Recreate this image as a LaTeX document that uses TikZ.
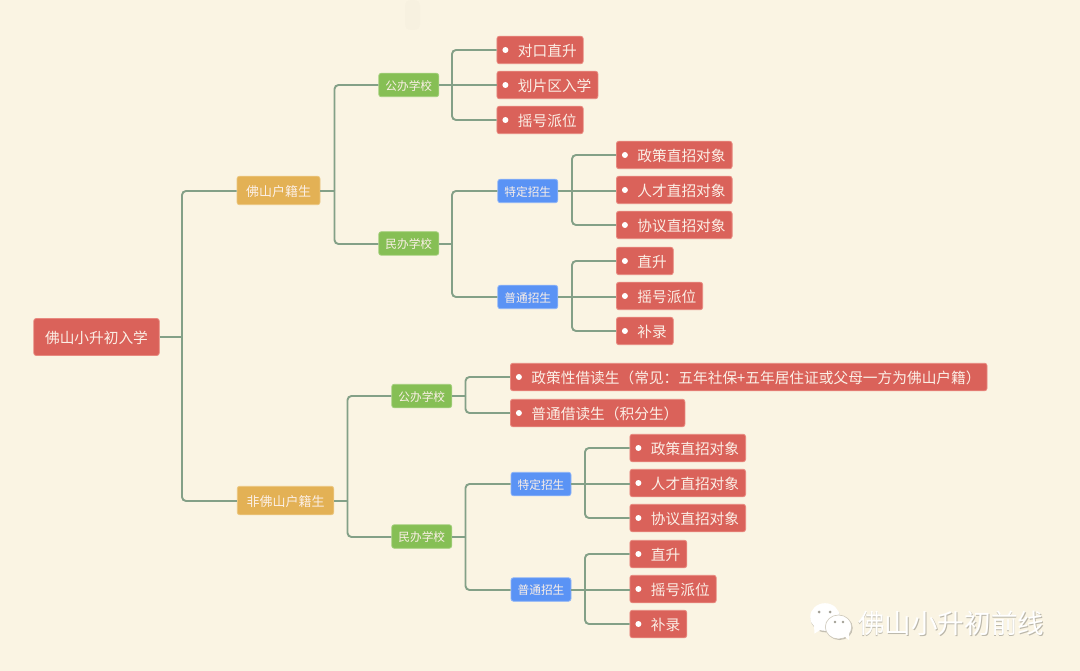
\documentclass[tikz,border=0pt]{standalone}
\usepackage{fontspec}
\setmainfont{Noto Sans CJK SC}
\usetikzlibrary{calc}
\definecolor{bgc}{HTML}{FAF4E3}
\definecolor{linec}{HTML}{83A087}
\definecolor{redc}{HTML}{DA625A}
\definecolor{redb}{HTML}{E8897F}
\definecolor{orangec}{HTML}{E3B155}
\definecolor{orangeb}{HTML}{EBC67F}
\definecolor{greenc}{HTML}{86BF55}
\definecolor{greenb}{HTML}{A3CF7C}
\definecolor{bluec}{HTML}{5A93F5}
\definecolor{blueb}{HTML}{8DB4F8}
\definecolor{txtc}{HTML}{FBEFE6}
\tikzset{
  base/.style={rounded corners=2.5pt,line width=0.8pt,text=txtc,inner ysep=0pt,inner xsep=0pt,align=center,text depth=0pt},
  rootbox/.style={base,fill=redc,draw=redb,minimum width=125.5pt,minimum height=37pt,text height=12.2pt,font=\fontsize{14.7pt}{16pt}\selectfont},
  lvone/.style={base,fill=orangec,draw=orangeb,minimum height=28.5pt,text height=11.9pt,font=\fontsize{13pt}{15pt}\selectfont},
  lvtwo/.style={base,fill=greenc,draw=greenb,minimum width=60pt,minimum height=23.5pt,text height=10.9pt,font=\fontsize{11.7pt}{14pt}\selectfont},
  lvblue/.style={base,fill=bluec,draw=blueb,minimum width=60pt,minimum height=23.5pt,text height=10.9pt,font=\fontsize{11.7pt}{14pt}\selectfont},
  leaf/.style={base,anchor=west,fill=redc,draw=redb,minimum height=27.5pt,inner xsep=6.5pt,text height=13.1pt,
    font=\fontsize{14.7pt}{16pt}\selectfont,
    execute at begin node={\hspace*{14.5pt}},
    path picture={\fill[white] ($(path picture bounding box.west)+(8.5pt,0pt)$) circle[radius=3pt];}},
  conn/.style={draw=linec,line width=1.9pt,rounded corners=4pt},
  stem/.style={draw=linec,line width=1.9pt},
}
\begin{document}
\begin{tikzpicture}[x=1pt,y=-1pt]
\useasboundingbox (0,0) rectangle (1080,671);
\fill[bgc] (0,0) rectangle (1080,671);
\fill[black!40!bgc,opacity=0.025,rounded corners=5pt] (405,0) rectangle (420,30);
% trunk points
\coordinate (t0) at (182,337);
\coordinate (ta) at (334.5,191);
\coordinate (tb) at (347.5,501);
\coordinate (ta1) at (452,85);
\coordinate (ta2) at (452,244);
\coordinate (tb1) at (465.5,396);
\coordinate (tb2) at (465.5,537);
\coordinate (ta21) at (572,191);
\coordinate (ta22) at (572,297);
\coordinate (tb21) at (585,484);
\coordinate (tb22) at (585,590);
% nodes
\node[rootbox] (root) at (96.5,337) {佛山小升初入学};
\node[lvone,minimum width=83pt] (a) at (278.5,190.5) {佛山户籍生};
\node[lvone,minimum width=96.5pt] (b) at (285.5,500.5) {非佛山户籍生};
\node[lvtwo] (a1) at (408.75,85) {公办学校};
\node[lvtwo] (a2) at (408.75,243.5) {民办学校};
\node[lvtwo] (b1) at (421.75,396) {公办学校};
\node[lvtwo] (b2) at (421.75,536.5) {民办学校};
\node[lvblue] (a21) at (527.75,191) {特定招生};
\node[lvblue] (a22) at (527.75,297) {普通招生};
\node[lvblue] (b21) at (541,484) {特定招生};
\node[lvblue] (b22) at (541,589.5) {普通招生};
\node[leaf] (a11) at (496.5,50) {对口直升};
\node[leaf] (a12) at (496.5,85) {划片区入学};
\node[leaf] (a13) at (496.5,120) {摇号派位};
\node[leaf] (a211) at (616,155) {政策直招对象};
\node[leaf] (a212) at (616,190) {人才直招对象};
\node[leaf] (a213) at (616,225) {协议直招对象};
\node[leaf] (a221) at (616,261) {直升};
\node[leaf] (a222) at (616,296) {摇号派位};
\node[leaf] (a223) at (616,331) {补录};
\node[leaf] (b11) at (510,377) {政策性借读生（常见：五年社保+五年居住证或父母一方为佛山户籍）};
\node[leaf] (b12) at (510,413) {普通借读生（积分生）};
\node[leaf] (b211) at (629.5,448) {政策直招对象};
\node[leaf] (b212) at (629.5,483) {人才直招对象};
\node[leaf] (b213) at (629.5,518) {协议直招对象};
\node[leaf] (b221) at (629.5,554) {直升};
\node[leaf] (b222) at (629.5,589) {摇号派位};
\node[leaf] (b223) at (629.5,624) {补录};
% connectors
\draw[stem] (root.east) -- (t0);
\draw[conn] (t0) |- (a.west |- ta);
\draw[conn] (t0) |- (b.west |- tb);
\draw[stem] (a.east |- ta) -- (ta);
\draw[conn] (ta) |- (a1.west);
\draw[conn] (ta) |- (a2.west |- ta2);
\draw[stem] (b.east |- tb) -- (tb);
\draw[conn] (tb) |- (b1.west);
\draw[conn] (tb) |- (b2.west |- tb2);
\draw[stem] (a1.east) -- (ta1);
\draw[conn] (ta1) |- (a11.west);
\draw[stem] (ta1) -- (a12.west);
\draw[conn] (ta1) |- (a13.west);
\draw[stem] (a2.east |- ta2) -- (ta2);
\draw[conn] (ta2) |- (a21.west);
\draw[conn] (ta2) |- (a22.west);
\draw[stem] (a21.east) -- (ta21);
\draw[conn] (ta21) |- (a211.west);
\draw[stem] (ta21) -- (a212.west |- ta21);
\draw[conn] (ta21) |- (a213.west);
\draw[stem] (a22.east) -- (ta22);
\draw[conn] (ta22) |- (a221.west);
\draw[stem] (ta22) -- (a222.west |- ta22);
\draw[conn] (ta22) |- (a223.west);
\draw[stem] (b1.east) -- (tb1);
\draw[conn] (tb1) |- (b11.west);
\draw[conn] (tb1) |- (b12.west);
\draw[stem] (b2.east |- tb2) -- (tb2);
\draw[conn] (tb2) |- (b21.west);
\draw[conn] (tb2) |- (b22.west |- tb22);
\draw[stem] (b21.east) -- (tb21);
\draw[conn] (tb21) |- (b211.west);
\draw[stem] (tb21) -- (b212.west |- tb21);
\draw[conn] (tb21) |- (b213.west);
\draw[stem] (b22.east |- tb22) -- (tb22);
\draw[conn] (tb22) |- (b221.west);
\draw[stem] (tb22) -- (b222.west |- tb22);
\draw[conn] (tb22) |- (b223.west);
% watermark
\begin{scope}[shift={(1,1)}]
\fill[black!22!bgc] (824.5,617.5) ellipse[x radius=14.8pt,y radius=13.8pt];
\fill[black!22!bgc] (838.5,627) ellipse[x radius=13.2pt,y radius=12pt];
\end{scope}
\fill[white] (825,617) ellipse[x radius=14.8pt,y radius=13.8pt];
\fill[white] (814,626) -- (814.5,633.5) -- (822,629) -- cycle;
\draw[black!18!bgc,line width=0.6pt,fill=white] (838.5,627) ellipse[x radius=13.2pt,y radius=12pt];
\fill[white] (844,636) -- (849,640) -- (849,632) -- cycle;
\fill[black!35!bgc] (819,612) circle[radius=1.5pt] (830,612) circle[radius=1.5pt] (835,622) circle[radius=1.4pt] (843,622) circle[radius=1.4pt];
\node[font=\fontsize{26.6pt}{30pt}\selectfont,text=black!25!bgc,inner sep=0pt] (wmshadow) at (952,624.5) {佛山小升初前线};
\node[font=\fontsize{26.6pt}{30pt}\selectfont,text=white,inner sep=0pt] (wm) at (951.2,623.7) {佛山小升初前线};
\end{tikzpicture}
\end{document}
